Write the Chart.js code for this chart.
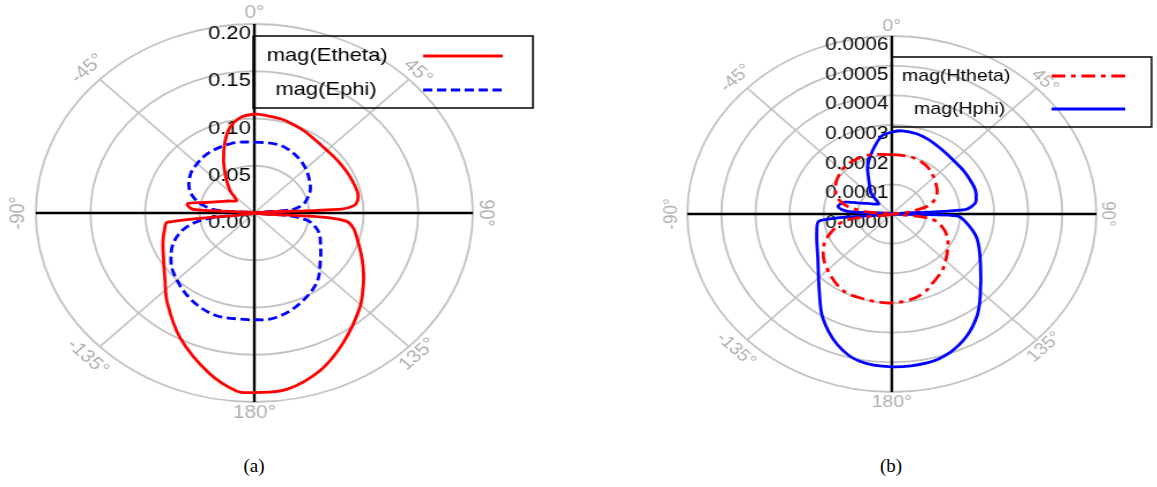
<!DOCTYPE html>
<html>
<head>
<meta charset="utf-8">
<script src="https://cdn.jsdelivr.net/npm/chart.js@4.4.1/dist/chart.umd.min.js"></script>
<style>
  html, body { margin: 0; padding: 0; background: #fff; width: 1157px; height: 487px; overflow: hidden; }
  .panel { position: absolute; top: 0; }
  .caption { position: absolute; top: 454px; font-family: 'Liberation Serif', 'Times New Roman', serif;
             font-size: 19px; line-height: 24px; color: #000; transform: translateX(-50%); }
</style>
</head>
<body>
<!-- canvases are drawn square and stretched sideways, like the original figure -->
<canvas id="chartA" class="panel" width="500" height="440" style="left:0px;width:578px;height:440px;"></canvas>
<canvas id="chartB" class="panel" width="490" height="440" style="left:600px;width:563px;height:440px;"></canvas>
<div class="caption" style="left:254px;">(a)</div>
<div class="caption" style="left:891px;">(b)</div>

<script>
// angle ticks shared by both plots (degrees, 0 at top, clockwise)
const angleTicks = [0, 45, 90, 135, 180, -135, -90, -45];
const angleTickLabels = ['0°', '45°', '90°', '135°', '180°', '-135°', '-90°', '-45°'];

// (a) radial ticks
const radialTicksA = [0, 0.05, 0.10, 0.15, 0.20];
const radialTickLabelsA = ['0.00', '0.05', '0.10', '0.15', '0.20'];

// (b) radial ticks
const radialTicksB = [0, 0.0001, 0.0002, 0.0003, 0.0004, 0.0005, 0.0006];
const radialTickLabelsB = ['0.0000', '0.0001', '0.0002', '0.0003', '0.0004', '0.0005', '0.0006'];

// (a) mag(Etheta)
const ethetaAngles = [0, 5, 14, 20, 28, 35, 43, 50, 57, 65, 73, 78, 82, 85, 87, 90,
  94, 96, 100, 104, 114, 120, 127, 136, 149, 160, 171, 180,
  -175, -166, -153, -140, -130, -120, -110, -102, -97, -90,
  -86, -81, -76, -70, -62, -55, -51, -47, -44, -40, -34, -27, -20, -14, -7];
const ethetaValues = [0.1045, 0.104, 0.1025, 0.1005, 0.098, 0.0955, 0.094, 0.094, 0.0945, 0.0955, 0.0965, 0.097, 0.0955, 0.092, 0.080, 0,
  0.065, 0.085, 0.092, 0.096, 0.107, 0.115, 0.125, 0.139, 0.159, 0.177, 0.189, 0.190,
  0.189, 0.174, 0.149, 0.124, 0.107, 0.096, 0.089, 0.084, 0.080, 0,
  0.056, 0.062, 0.046, 0.035, 0.027, 0.022, 0.021, 0.025, 0.031, 0.037, 0.047, 0.062, 0.079, 0.093, 0.102];

// (a) mag(Ephi)
const ephiAngles = [0, 16, 25, 37, 48, 58, 65, 71, 78, 84, 90,
  95, 99, 105, 111, 120, 128, 143, 160, 172, 180,
  -177, -162, -147, -130, -120, -112, -104, -98, -90,
  -85, -79, -71, -65, -58, -50, -34, -16];
const ephiValues = [0.075, 0.0755, 0.074, 0.070, 0.065, 0.060, 0.0565, 0.052, 0.046, 0.035, 0,
  0.030, 0.049, 0.058, 0.064, 0.070, 0.077, 0.094, 0.107, 0.113, 0.113,
  0.113, 0.114, 0.108, 0.097, 0.088, 0.079, 0.065, 0.044, 0,
  0.035, 0.050, 0.061, 0.066, 0.070, 0.073, 0.076, 0.0765];

// (b) mag(Htheta)
const hthetaAngles = [0, 15, 24, 35, 47, 62, 74, 80, 85, 90,
  98, 108, 120, 140, 152, 161, 170, 180,
  -175, -163, -150, -131, -118, -109, -99, -90,
  -84, -78, -70, -60, -53, -40, -25, -15];
const hthetaValues = [0.000200, 0.000200, 0.000198, 0.000188, 0.000171, 0.000150, 0.000118, 0.000070, 0.000030, 0,
  0.000115, 0.000159, 0.000190, 0.000236, 0.000260, 0.000283, 0.000295, 0.000300,
  0.000300, 0.000298, 0.000294, 0.000259, 0.000226, 0.000188, 0.000137, 0,
  0.000080, 0.000138, 0.000172, 0.000190, 0.000200, 0.000211, 0.000212, 0.000207];

// (b) mag(Hphi)
const hphiAngles = [0, 6, 15, 23, 34, 44, 55, 65, 72, 79, 82, 86, 90,
  92, 97, 108, 123, 137, 144, 152, 160, 168, 180,
  -169, -160, -150, -141, -125, -105, -96, -90,
  -86, -81, -74, -68, -62, -55, -48, -41, -35, -29, -24, -18, -12, -6];
const hphiValues = [0.000276, 0.000282, 0.000280, 0.000273, 0.000262, 0.000256, 0.000256, 0.000257, 0.000258, 0.000252, 0.000245, 0.000215, 0,
  0.000190, 0.000218, 0.000262, 0.000310, 0.000380, 0.000425, 0.000467, 0.000497, 0.000512, 0.000515,
  0.000505, 0.000468, 0.000405, 0.000338, 0.000265, 0.000228, 0.000212, 0,
  0.000130, 0.000160, 0.000144, 0.000097, 0.000074, 0.000058, 0.000052, 0.000093, 0.000113, 0.000142, 0.000175, 0.000205, 0.000236, 0.000266];

const GRID = '#c2c2c2';
const angleLabels = Array.from({ length: 360 }, (_, i) => i);

// place the read values on a 1-degree ring, gaps are bridged by the line
function toRing(angles, values) {
  const ring = new Array(360).fill(null);
  angles.forEach((a, i) => {
    ring[((Math.round(a) % 360) + 360) % 360] = values[i];
  });
  return ring;
}

const polarDecor = {
  id: 'polarDecor',
  beforeDatasetsDraw(chart, args, opts) {
    const scale = chart.scales.r;
    const ctx = chart.ctx;
    const cx = scale.xCenter, cy = scale.yCenter;
    ctx.save();
    // value labels to the left of the 0° axis
    ctx.font = opts.tickFont;
    ctx.fillStyle = '#000';
    ctx.textAlign = 'right';
    ctx.textBaseline = 'middle';
    opts.tickValues.forEach((v, i) => {
      const d = scale.getDistanceFromCenterForValue(v);
      ctx.fillText(opts.tickLabels[i], cx - 3, cy - d + opts.tickDrop);
    });
    // angle labels turned along the rim
    ctx.font = opts.angleFont;
    ctx.fillStyle = '#b0b0b0';
    ctx.textAlign = 'center';
    const rim = scale.drawingArea;
    angleTicks.forEach((a, i) => {
      const text = angleTickLabels[i];
      const idx = ((a % 360) + 360) % 360;
      const gap = opts.angleGap + (text[0] === '-' ? 4 : 0);
      const p = scale.getPointPosition(idx, rim + gap);
      const rot = Math.abs(a) <= 90 ? a : (a > 0 ? a - 180 : a + 180);
      ctx.save();
      ctx.translate(p.x, p.y);
      ctx.rotate(rot * Math.PI / 180);
      ctx.fillText(text, 0, 0);
      ctx.restore();
    });
    ctx.restore();
  },
  afterDraw(chart, args, opts) {
    const lg = opts.legend;
    const ctx = chart.ctx;
    ctx.save();
    ctx.strokeStyle = '#000';
    ctx.lineWidth = 1.5;
    ctx.strokeRect(lg.x, lg.y, lg.w, lg.h);
    chart.data.datasets.forEach((ds, i) => {
      const y = lg.rowY[i];
      ctx.font = lg.font;
      ctx.fillStyle = '#000';
      ctx.textAlign = 'center';
      ctx.textBaseline = 'middle';
      ctx.fillText(ds.label, lg.textX[i], y);
      ctx.strokeStyle = ds.borderColor;
      ctx.lineWidth = ds.borderWidth;
      ctx.setLineDash(ds.borderDash || []);
      ctx.beginPath();
      ctx.moveTo(lg.lineX1, y);
      ctx.lineTo(lg.lineX2, y);
      ctx.stroke();
      ctx.setLineDash([]);
    });
    ctx.restore();
  }
};

function radialScale(max, step) {
  return {
    r: {
      min: 0,
      max: max,
      ticks: { display: false, stepSize: step },
      grid: { circular: true, color: GRID, lineWidth: 1.8 },
      angleLines: {
        display: true,
        color: (c) => (c.index % 90 === 0 ? '#000' : GRID),
        lineWidth: (c) => (c.index % 45 === 0 ? (c.index % 90 === 0 ? 2.4 : 1.6) : 0)
      },
      pointLabels: { display: false }
    }
  };
}

function lineSet(label, ring, color, dash) {
  return {
    label: label,
    data: ring,
    borderColor: color,
    backgroundColor: 'transparent',
    borderWidth: 2.8,
    borderDash: dash,
    fill: false,
    spanGaps: true,
    tension: 0.35,
    pointRadius: 0,
    pointHoverRadius: 0
  };
}

new Chart(document.getElementById('chartA').getContext('2d'), {
  type: 'radar',
  data: {
    labels: angleLabels,
    datasets: [
      lineSet('mag(Etheta)', toRing(ethetaAngles, ethetaValues), '#ff0000', []),
      lineSet('mag(Ephi)', toRing(ephiAngles, ephiValues), '#0000ff', [8, 4])
    ]
  },
  options: {
    responsive: false,
    animation: false,
    devicePixelRatio: 1,
    events: [],
    layout: { padding: { left: 31, right: 91, top: 24, bottom: 38 } },
    scales: radialScale(0.2, 0.05),
    plugins: {
      legend: { display: false },
      tooltip: { enabled: false },
      polarDecor: {
        tickValues: radialTicksA,
        tickLabels: radialTickLabelsA,
        tickFont: '19px "Liberation Sans", Arial, sans-serif',
        tickDrop: 10,
        angleFont: '18px "Liberation Sans", Arial, sans-serif',
        angleGap: 11,
        legend: {
          x: 219, y: 36, w: 242, h: 72,
          rowY: [56, 90], textX: [283, 282],
          lineX1: 366, lineX2: 435,
          font: '19px "Liberation Sans", Arial, sans-serif'
        }
      }
    }
  },
  plugins: [polarDecor]
});

new Chart(document.getElementById('chartB').getContext('2d'), {
  type: 'radar',
  data: {
    labels: angleLabels,
    datasets: [
      lineSet('mag(Htheta)', toRing(hthetaAngles, hthetaValues), '#ff0000', [12, 5, 4, 5]),
      lineSet('mag(Hphi)', toRing(hphiAngles, hphiValues), '#0000ff', [])
    ]
  },
  options: {
    responsive: false,
    animation: false,
    devicePixelRatio: 1,
    events: [],
    layout: { padding: { left: 76, right: 58, top: 36, bottom: 48 } },
    scales: radialScale(0.0006, 0.0001),
    plugins: {
      legend: { display: false },
      tooltip: { enabled: false },
      polarDecor: {
        tickValues: radialTicksB,
        tickLabels: radialTickLabelsB,
        tickFont: '18px "Liberation Sans", Arial, sans-serif',
        tickDrop: 9,
        angleFont: '17px "Liberation Sans", Arial, sans-serif',
        angleGap: 10,
        legend: {
          x: 254, y: 57, w: 226, h: 70,
          rowY: [76, 109], textX: [310, 313],
          lineX1: 393, lineX2: 457,
          font: '17px "Liberation Sans", Arial, sans-serif'
        }
      }
    }
  },
  plugins: [polarDecor]
});
</script>
</body>
</html>
